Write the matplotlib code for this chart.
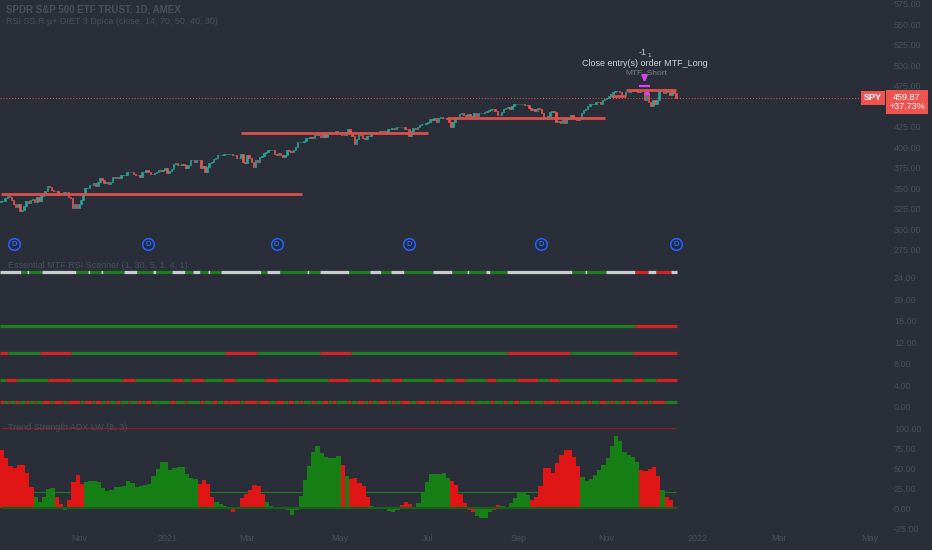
import matplotlib
matplotlib.use("Agg")
import matplotlib.pyplot as plt
import matplotlib.transforms as mtransforms

plt.rcParams['font.family'] = ['Liberation Sans', 'DejaVu Sans']

BG = '#2a2e39'
TXT = '#4b4f5a'
UP = '#26a69a'
DOWN = '#ef5350'

# SPY daily closes, 2020-09-10 .. 2021-12-17
closes = [
    333.89, 334, 338, 340, 339, 335, 331, 327, 330, 322, 323, 328, 334, 332, 335,
    337, 333, 339, 334, 340, 343, 347, 353, 351, 348, 347, 347, 342, 343, 343, 345, 345, 339, 338, 326, 330, 326,
    330, 336, 343, 350, 350, 354, 354, 356, 352, 358, 362, 360, 356, 357, 355, 357, 363, 362, 363, 362,
    366, 366, 366, 369, 369, 370, 367, 366, 366, 364, 369, 370, 372, 369, 367, 367, 368, 369, 372, 371, 372, 374,
    368, 371, 373, 379, 381, 378, 378, 379, 378, 375, 378, 384, 384, 382, 384, 384, 374, 377, 370,
    376, 381, 382, 386, 387, 390, 390, 390, 391, 392, 392, 392, 390, 390, 387, 387, 392, 382, 381,
    390, 387, 382, 376, 384, 382, 388, 389, 393, 394, 396, 396, 397, 391, 390, 393, 390, 388, 390, 396, 395, 394, 396,
    400, 406, 406, 406, 408, 411, 411, 412, 411, 415, 417, 415, 412, 416, 412, 417, 418, 417, 417, 420, 418,
    419, 415, 415, 419, 422, 417, 413, 404, 410, 416, 415, 411, 410, 414, 414, 418, 418, 419, 419, 420,
    419, 420, 418, 422, 422, 423, 422, 424, 424, 425, 424, 422, 422, 414, 420, 423, 422, 425, 427, 428, 428, 429,
    431, 434, 433, 435, 431, 435, 437, 436, 436, 434, 431, 424, 431, 434, 435, 440, 441, 439, 438, 440, 438,
    437, 441, 438, 441, 442, 441, 443, 444, 445, 446, 447, 444, 439, 439, 443, 447, 448, 449, 446, 450, 452, 452,
    452, 453, 453, 451, 451, 448, 445, 446, 444, 448, 447, 442, 434, 434, 438, 443, 444, 443, 431, 432, 429,
    434, 429, 434, 435, 439, 437, 434, 433, 435, 442, 445, 447, 450, 452, 453, 453, 455, 455, 453, 458, 459,
    460, 462, 465, 467, 468, 469, 467, 463, 463, 467, 467, 469, 468, 470, 469, 467, 468, 469, 458, 464, 455,
    450, 457, 453, 458, 468, 469, 466, 471, 467, 463, 470, 466, 459.87,
]
first_open = 332.5

dividend_bars = [6, 70, 131, 194, 257, 321]

# horizontal levels drawn by the strategy
level_start = [0, 114, 212, 290, 297]
level_end = [143, 203, 287, 297, 321]
level_price = [342.8, 417.2, 435.5, 462.3, 469.6]

month_bars = [37, 79, 117, 161, 203, 246, 288, 331, 370, 413]
month_labels = ['Nov', '2021', 'Mar', 'May', 'Jul', 'Sep', 'Nov', '2022', 'Mar', 'May']

# price scale labels (450 sits under the last-price badge)
price_ticks = [275, 300, 325, 350, 375, 400, 425, 475, 500, 525, 550, 575]

# MTF scanner rows: level and colour runs (colour + number of bars)
mtf_levels = [25, 15, 10, 5, 1]
mtf_runs = [
    "w10 g3 w1 g6 w16 g6 w1 g5 w1 g10 w6 g8 w1 g8 w6 g4 w3 g4 w1 g5 w19 g3 w6 g13 w1 g5 w14 "
    "g10 w5 g5 w6 g14 w9 g7 w1 g8 w2 g8 w31 g6 w1 g9 w14 r6 w4 r7 w3",
    "g302 r20",
    "r4 g15 r15 g73 r15 g30 r15 g74 r30 g30 r21",
    "g3 r5 g15 r11 g24 r6 g18 r5 g4 r6 g9 r6 g14 r6 g24 r10 g10 r5 g5 r5 g15 r5 g5 r5 g10 r5 "
    "g10 r10 g5 r5 g25 r5 g5 r5 g6 r10",
    "r2 g2 r1 g2 r2 g3 r2 g2 r1 g3 r4 g1 r5 g2 r6 g2 r4 g1 r3 g2 r2 g3 r2 g4 r1 g3 r2 g2 r3 g3 "
    "g6 r2 g5 r1 g6 r2 g4 r2 g3 r3 r5 g2 r6 g1 r5 g3 r4 g2 r3 g2 r2 g4 r2 g3 r3 g2 r2 g5 r2 g3 "
    "r3 g2 r2 g3 r4 g2 r2 g2 r5 g3 r4 g2 r3 g2 r6 g1 r5 g2 r3 g4 g3 r2 g4 r2 g3 r3 g5 r2 g4 r2 "
    "r4 g2 r5 g2 r3 g3 r2 g4 r3 g2 r2 g3 r2 g2 r4 g3 r2 g2 r6 g6",
]

# ADX trend strength, one reading every 2 bars
adx_step = 2
adx_vals = [
    73, 63, 52, 50, 54, 54, 44, 26, 14, 8,
    14, 24, 25, 14, 5, -2, 10, 32, 41, 30,
    32, 34, 34, 33, 25, 21, 23, 26, 26, 28,
    34, 31, 26, 27, 29, 30, 40, 49, 58, 57,
    47, 50, 51, 51, 42, 38, 36, 30, 35, 30,
    14, 8, 5, 3, 0, -5, 0, 12, 17, 22,
    29, 28, 18, 8, 2, 0, -1, 0, -2, -9,
    -3, 15, 35, 52, 70, 77, 69, 64, 62, 62,
    65, 54, 40, 36, 38, 31, 28, 14, 3, 0,
    1, -1, -4, -5, -3, 4, 8, 5, 1, 6,
    20, 33, 42, 43, 42, 44, 38, 34, 29, 17,
    6, -2, -5, -10, -13, -13, -5, -2, 4, 2,
    0, 6, 12, 20, 20, 16, 10, 14, 27, 50,
    50, 44, 56, 66, 72, 72, 64, 53, 39, 34,
    36, 41, 48, 54, 62, 77, 90, 84, 70, 66,
    64, 57, 47, 46, 49, 51, 40, 22, 14, 10, 1,
]
adx_cols = ("RRRRRRRRGG" "GGGRRGRRRR" "GGGGGGGGGG" "GGGGGGGGGG" "GGGGGGGRRR"
            "RGGGGRRRRR" "RRRGGRRRGG" "GGGGGGGGGG" "GRGRRRRRGG" "GGGGGRRRGG"
            "GGGGGGGRRR" "RRRGGGGRRG" "GGGGGGRRRR" "RRRRRRRRGG" "GGGGGGGGGG"
            "GGRRRRRGRRR")

exit_bar = 306

W, H = 932, 550
fig = plt.figure(figsize=(W / 100, H / 100), dpi=100, facecolor=BG)
ax1 = fig.add_axes([0, 1 - 258 / H, 1, 258 / H])
ax2 = fig.add_axes([0, 1 - 418 / H, 1, 160 / H])
ax3 = fig.add_axes([0, 1 - 530 / H, 1, 112 / H])

for ax in (ax1, ax2, ax3):
    ax.set_facecolor(BG)
    for s in ax.spines.values():
        s.set_visible(False)
    ax.set_xlim(-0.48, 442.7)
    ax.yaxis.tick_right()
    ax.tick_params(axis='y', direction='in', length=0, pad=-27.4,
                   labelsize=6.5, labelcolor=TXT)
    ax.tick_params(axis='x', length=0, labelsize=6.5, labelcolor=TXT, pad=3)
    ax.set_xticks([])

# ---- price pane
opens = [first_open] + closes[:-1]
xs = list(range(len(closes)))
cols = [UP if c >= o else DOWN for o, c in zip(opens, closes)]
ax1.bar(xs, [c - o for o, c in zip(opens, closes)], bottom=opens, width=0.72,
        color=cols, edgecolor=cols, linewidth=0.5)
ax1.hlines(level_price, level_start, level_end, color='#d9504c', lw=2.0, zorder=3)
last = closes[-1]
ax1.axhline(last, xmin=0, xmax=862 / W, color=DOWN, ls=(0, (1, 2)), lw=0.7)
ax1.set_ylim(264.7, 579.4)
ax1.set_yticks(price_ticks)
ax1.set_yticklabels(['%.2f' % v for v in price_ticks])

trans = mtransforms.blended_transform_factory(ax1.transAxes, ax1.transData)
ax1.text(873 / W, last, 'SPY', transform=trans, ha='center', va='center', color='white',
         fontsize=6.5, fontweight='bold',
         bbox=dict(boxstyle='square,pad=0.3', fc=DOWN, ec='none'))
ax1.text(907 / W, last, '459.87\n+37.73%',
         transform=mtransforms.offset_copy(trans, fig=fig, y=-4, units='dots'),
         ha='center', va='center', color='white', fontsize=6.5, linespacing=1.1,
         bbox=dict(boxstyle='square,pad=0.3', fc=DOWN, ec='none'))

dtrans = mtransforms.blended_transform_factory(ax1.transData, ax1.transAxes)
ax1.scatter(dividend_bars, [0.054] * len(dividend_bars), transform=dtrans, s=70,
            facecolor='#1d2a4a', edgecolor='#2962ff', linewidth=1.1, zorder=5)
for b in dividend_bars:
    ax1.text(b, 0.054, 'D', transform=dtrans, ha='center', va='center',
             color='#4f86ff', fontsize=5.5, zorder=6)

# strategy exit marker
ax1.annotate('', xy=(exit_bar, 476), xytext=(exit_bar, 487),
             arrowprops=dict(arrowstyle='-|>', color='#e040fb', lw=1.6, mutation_scale=8))
ax1.hlines(475, exit_bar - 2.5, exit_bar + 2.5, color='#e040fb', lw=1.6)
ax1.plot([exit_bar + 1], [467], marker='^', ms=3, color='#e040fb')
ax1.text(exit_bar - 1, 515, '-1', ha='center', va='center', color='#c9ccd4', fontsize=6.5)
ax1.text(exit_bar + 2, 512, '1', ha='center', va='center', color='#c9ccd4', fontsize=4.5)
ax1.text(exit_bar + 1, 491, 'MTF_Short', ha='center', va='center', color='#7d818c',
         fontsize=6)
ax1.text(exit_bar, 501.5, 'Close entry(s) order MTF_Long', ha='center', va='center',
         color='#d1d4dc', fontsize=6.5)

# ---- MTF scanner pane
colmap = {'g': '#1f7d1f', 'r': '#d32222', 'w': '#c9cbcf'}
for level, runs in zip(mtf_levels, mtf_runs):
    pos = 0
    for tok in runs.split():
        n = int(tok[1:])
        ax2.hlines(level, pos - 0.5, pos + n - 0.5, color=colmap[tok[0]], lw=2.3)
        pos += n
ax2.set_ylim(-2.04, 27.6)
ax2.set_yticks(range(0, 25, 4))
ax2.set_yticklabels(['%.2f' % v for v in range(0, 25, 4)])

# ---- ADX pane
adx_x = [i * adx_step + 0.5 for i in range(len(adx_vals))]
adx_c = ['#e01616' if c == 'R' else '#168016' for c in adx_cols]
ax3.hlines(20, 0, len(closes) - 1, color='#1f7a1f', lw=0.8, zorder=1)
ax3.bar(adx_x, adx_vals, width=adx_step, color=adx_c, linewidth=0, zorder=2)
ax3.hlines(100, 0, len(closes) - 1, color='#8a2020', lw=0.9, zorder=3)
ax3.hlines(0, 0, len(closes) - 1, color='#1b5e1b', lw=1.6, zorder=3)
ax3.set_ylim(-27.5, 112.5)
ax3.set_yticks(range(-25, 101, 25))
ax3.set_yticklabels(['%.2f' % v for v in range(-25, 101, 25)])
ax3.set_xticks(month_bars)
ax3.set_xticklabels(month_labels)

# ---- headers
fig.text(6 / W, 1 - 10 / H, 'SPDR S&P 500 ETF TRUST, 1D, AMEX', color=TXT, fontsize=7,
         fontweight='bold', va='center')
fig.text(6 / W, 1 - 22 / H, 'RSI SS.R \u00b5+ DIET 3 Dpica (close, 14, 70, 50, 40, 30)',
         color=TXT, fontsize=6.5, va='center')
fig.text(8 / W, 1 - 265 / H, 'Essential MTF RSI Scanner (1, 30, 5, 1, 4, 1)', color=TXT,
         fontsize=6.5, va='center')
fig.text(8 / W, 1 - 428 / H, 'Trend Strength ADX LW (8, 3)', color=TXT, fontsize=6.5,
         va='center')

fig.savefig('out.png', dpi=100, facecolor=BG)
